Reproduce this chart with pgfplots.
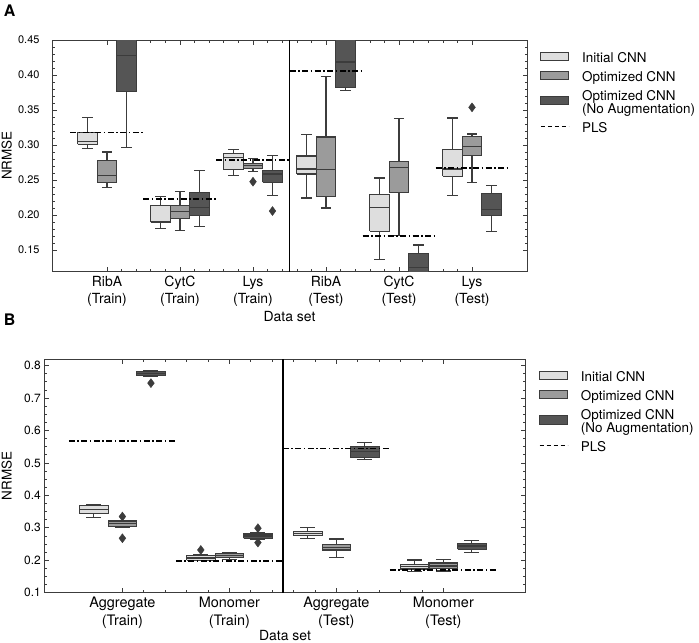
\documentclass[border=0pt]{standalone}
\usepackage{fontspec}
\setmainfont{TeX Gyre Heros}
\usepackage{pgfplots}
\pgfplotsset{compat=1.18}
\definecolor{cL}{HTML}{DEDEDE}
\definecolor{cM}{HTML}{9B9B9B}
\definecolor{cD}{HTML}{555555}
\definecolor{cE}{HTML}{3C3C3C}
% position, fill, lw, q1, med, q3, uw
\newcommand{\bx}[7]{%
 \addplot[cE, line width=1.1bp, forget plot] coordinates {(#1,#3) (#1,#4)};
 \addplot[cE, line width=1.1bp, forget plot] coordinates {(#1,#6) (#1,#7)};
 \addplot[cE, line width=1.1bp, forget plot] coordinates {(#1-0.07,#3) (#1+0.07,#3)};
 \addplot[cE, line width=1.1bp, forget plot] coordinates {(#1-0.07,#7) (#1+0.07,#7)};
 \addplot[draw=cE, fill=#2, line width=1.1bp, line join=miter, forget plot] coordinates {(#1-0.1335,#4) (#1+0.1335,#4) (#1+0.1335,#6) (#1-0.1335,#6) (#1-0.1335,#4)};
 \addplot[cE, line width=1.1bp, forget plot] coordinates {(#1-0.1335,#5) (#1+0.1335,#5)};
}
\newcommand{\pls}[2]{\addplot[black, line width=1.8bp, dash pattern=on 6bp off 2.5bp on 1.5bp off 2.5bp, forget plot] coordinates {(#1-0.5,#2) (#1+0.5,#2)};}
\pgfplotsset{
  common/.style={
    scale only axis, clip=true,
    axis line style={cE, line width=0.8bp},
    major tick style={cE, line width=0.7bp},
    minor tick style={cE, line width=0.6bp},
    major tick length=4.5bp, minor tick length=2.5bp,
    /pgf/number format/assume math mode=true,
    xticklabel style={align=center},
    legend style={at={(axis description cs:1,1)}, anchor=north west, xshift=13bp, yshift=-10bp, draw=none, fill=none, font=\fontsize{13.5}{15}\selectfont, row sep=3.5bp, inner sep=0pt, cells={anchor=base west}},
    legend cell align=left,
    legend image code/.code={\draw[##1] (0bp,-2.1bp) rectangle (28bp,5.9bp); \path (0bp,2bp) (39bp,2bp);},
    plslegend/.style={legend image code/.code={\draw[black, line width=1.3bp, dash pattern=on 4bp off 3bp] (0bp,1.9bp) -- (28bp,1.9bp); \path (0bp,2bp) (39bp,2bp);}},
  }
}
\begin{document}
\begin{tikzpicture}
\useasboundingbox (0,0) rectangle (699bp,-643bp);
\node[font=\bfseries\fontsize{16}{18}\selectfont] at (9.7bp,-10.8bp) {A};
\node[font=\bfseries\fontsize{16}{18}\selectfont] at (9.7bp,-320bp) {B};
\node[rotate=90, font=\fontsize{13.5}{15}\selectfont] at (6.7bp,-155.5bp) {NRMSE};
\node[rotate=90, font=\fontsize{13.5}{15}\selectfont] at (6.7bp,-475.8bp) {NRMSE};
\node[font=\fontsize{14}{16}\selectfont] at (289.5bp,-317bp) {Data set};
\node[font=\fontsize{14}{16}\selectfont] at (285bp,-636bp) {Data set};

\begin{axis}[common,
  at={(52bp,-40bp)}, anchor=north west, width=475bp, height=231bp,
  xmin=-0.753, xmax=5.753, ymin=0.12, ymax=0.45,
  xtick={0,1,2,3,4,5},
  xticklabels={{RibA\\(Train)},{CytC\\(Train)},{Lys\\(Train)},{RibA\\(Test)},{CytC\\(Test)},{Lys\\(Test)}},
  xticklabel style={font=\fontsize{14}{17}\selectfont, yshift=-1.5bp},
  minor x tick num=4,
  ytick={0.15,0.20,0.25,0.30,0.35,0.40,0.45},
  minor y tick num=4,
  yticklabel style={font=\fontsize{11}{13}\selectfont, xshift=-9bp, /pgf/number format/fixed, /pgf/number format/fixed zerofill, /pgf/number format/precision=2},
]
\addlegendimage{fill=cL, draw=cE, line width=0.8bp}
\addlegendentry{Initial CNN}
\addlegendimage{fill=cM, draw=cE, line width=0.8bp}
\addlegendentry{Optimized CNN}
\addlegendimage{fill=cD, draw=cE, line width=0.8bp}
\addlegendentry{\begin{tabular}[b]{@{}l@{}}Optimized CNN\\[-1.8bp](No Augmentation)\end{tabular}}
\addlegendimage{plslegend}
\addlegendentry{PLS}
% RibA Train
\bx{-0.267}{cL}{0.295}{0.301}{0.305}{0.318}{0.339}
\bx{0}{cM}{0.239}{0.247}{0.257}{0.278}{0.290}
\bx{0.267}{cD}{0.297}{0.376}{0.428}{0.48}{0.52}
% CytC Train
\bx{0.733}{cL}{0.181}{0.1896}{0.191}{0.2133}{0.227}
\bx{1}{cM}{0.178}{0.195}{0.205}{0.213}{0.233}
\bx{1.267}{cD}{0.184}{0.199}{0.211}{0.232}{0.263}
% Lys Train
\bx{1.733}{cL}{0.257}{0.265}{0.2824}{0.288}{0.294}
\bx{2}{cM}{0.262}{0.267}{0.2705}{0.274}{0.281}
\bx{2.267}{cD}{0.2276}{0.247}{0.2586}{0.263}{0.285}
% RibA Test
\bx{2.733}{cL}{0.2243}{0.2586}{0.2657}{0.2843}{0.3147}
\bx{3}{cM}{0.21}{0.2267}{0.2647}{0.3114}{0.3976}
\bx{3.267}{cD}{0.378}{0.3819}{0.4186}{0.47}{0.50}
% CytC Test
\bx{3.733}{cL}{0.1362}{0.1767}{0.2105}{0.2295}{0.2529}
\bx{4}{cM}{0.171}{0.2324}{0.2681}{0.2762}{0.3376}
\bx{4.267}{cD}{0.09}{0.11}{0.1247}{0.1453}{0.1571}
% Lys Test
\bx{4.733}{cL}{0.2276}{0.2552}{0.2657}{0.2938}{0.3386}
\bx{5}{cM}{0.2462}{0.2848}{0.2981}{0.3124}{0.3157}
\bx{5.267}{cD}{0.1762}{0.199}{0.2076}{0.231}{0.2419}
\addplot[only marks, mark=diamond*, mark size=4.5bp, mark options={draw=cE, fill=cE}, forget plot] coordinates {(2,0.2476) (2.267,0.2057) (5,0.3538)};
\pls{0}{0.318}
\pls{1}{0.2224}
\pls{2}{0.2786}
\pls{3}{0.4053}
\pls{4}{0.1705}
\pls{5}{0.2671}
\addplot[black, line width=1.5bp, forget plot] coordinates {(2.5,0) (2.5,1)};
\end{axis}

\begin{axis}[common,
  at={(44.3bp,-359bp)}, anchor=north west, width=481.4bp, height=233.7bp,
  xmin=-0.73, xmax=3.77, ymin=0.1, ymax=0.82,
  xtick={0,1,2,3},
  xticklabels={{Aggregate\\(Train)},{Monomer\\(Train)},{Aggregate\\(Test)},{Monomer\\(Test)}},
  xticklabel style={font=\fontsize{14.5}{17.7}\selectfont, yshift=-1bp},
  minor x tick num=4,
  ytick={0.1,0.2,0.3,0.4,0.5,0.6,0.7,0.8},
  minor y tick num=3,
  yticklabel style={font=\fontsize{12}{14}\selectfont, /pgf/number format/fixed, /pgf/number format/fixed zerofill, /pgf/number format/precision=1},
]
\addlegendimage{fill=cL, draw=cE, line width=0.8bp}
\addlegendentry{Initial CNN}
\addlegendimage{fill=cM, draw=cE, line width=0.8bp}
\addlegendentry{Optimized CNN}
\addlegendimage{fill=cD, draw=cE, line width=0.8bp}
\addlegendentry{\begin{tabular}[b]{@{}l@{}}Optimized CNN\\[-1.8bp](No Augmentation)\end{tabular}}
\addlegendimage{plslegend}
\addlegendentry{PLS}
% Aggregate Train
\bx{-0.267}{cL}{0.3325}{0.3427}{0.355}{0.3674}{0.3726}
\bx{0}{cM}{0.3017}{0.3036}{0.312}{0.3208}{0.3230}
\bx{0.267}{cD}{0.766}{0.7682}{0.7744}{0.7815}{0.7846}
% Monomer Train
\bx{0.733}{cL}{0.1987}{0.1995}{0.207}{0.2153}{0.2184}
\bx{1}{cM}{0.203}{0.2091}{0.2153}{0.2215}{0.2246}
\bx{1.267}{cD}{0.2656}{0.2677}{0.2748}{0.281}{0.285}
% Aggregate Test
\bx{1.733}{cL}{0.2677}{0.2749}{0.2821}{0.2893}{0.3017}
\bx{2}{cM}{0.2091}{0.2317}{0.24}{0.2493}{0.2656}
\bx{2.267}{cD}{0.5114}{0.5163}{0.535}{0.5503}{0.5626}
% Monomer Test
\bx{2.733}{cL}{0.1648}{0.1731}{0.1802}{0.1876}{0.2009}
\bx{3}{cM}{0.167}{0.1741}{0.1823}{0.1916}{0.203}
\bx{3.267}{cD}{0.2225}{0.2339}{0.244}{0.2524}{0.2616}
\addplot[only marks, mark=diamond*, mark size=4.5bp, mark options={draw=cE, fill=cE}, forget plot] coordinates {(0,0.3346) (0,0.2677) (0.267,0.7457) (0.733,0.2317) (1.267,0.2986) (1.267,0.2544)};
\pls{0}{0.5678}
\pls{1}{0.1987}
\pls{2}{0.5441}
\pls{3}{0.1700}
\addplot[black, line width=1.5bp, forget plot] coordinates {(1.5,0) (1.5,1)};
\end{axis}
\end{tikzpicture}
\end{document}
